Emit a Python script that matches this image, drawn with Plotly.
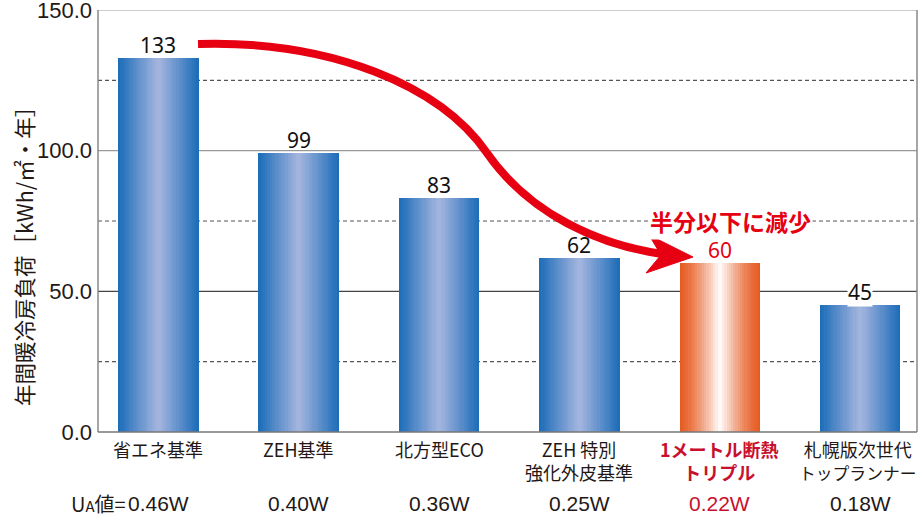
import plotly.graph_objects as go

# ---------------- data ----------------
categories = ["省エネ基準", "ZEH基準", "北方型ECO", "ZEH 特別<br>強化外皮基準",
              "1メートル断熱<br>トリプル", "札幌版次世代<br><span style='font-size:16.8px'>トップランナー</span>"]
loads = [133, 99, 83, 62, 60, 45]
ua_values = ["0.46W", "0.40W", "0.36W", "0.25W", "0.22W", "0.18W"]
highlight = [False, False, False, False, True, False]
y_tickvals = [0, 50, 100, 150]
y_title = "年間暖冷房負荷［kWh/㎡・年］"
callout = "半分以下に減少"
ua_prefix = "U<span style='font-size:15px'>A</span>値="

# ---------------- layout constants ----------------
W, H = 920, 514
ML, MR, MT, MB = 98, 3, 10, 82
XR = [-0.43, 5.405]
YR = [0, 150]
BAR_W = 0.574
N_STRIPS = 36

RED = "#e60012"
DARKRED = "#c8102e"
TXT = "#231815"

plot_w = W - ML - MR
plot_h = H - MT - MB


def px2d(px, py):
    """pixel position -> data coordinates (for decorative shapes only)"""
    x = XR[0] + (px - ML) / plot_w * (XR[1] - XR[0])
    y = YR[0] + (MT + plot_h - py) / plot_h * (YR[1] - YR[0])
    return x, y


def pstr(px, py):
    x, y = px2d(px, py)
    return f"{x:.4f},{y:.4f}"


def mix(c1, c2, t):
    return "rgb(%d,%d,%d)" % tuple(round(a + (b - a) * t) for a, b in zip(c1, c2))


BLUE_EDGE, BLUE_MID = (26, 108, 184), (166, 182, 223)
OR_EDGE, OR_MID = (230, 92, 34), (255, 255, 255)

fig = go.Figure()
xs = list(range(len(categories)))
sw = BAR_W / N_STRIPS
for k in range(N_STRIPS):
    u = -1 + (2 * k + 1) / N_STRIPS
    t = 1 - abs(u)
    cols = [mix(OR_EDGE, OR_MID, t ** 1.4) if h else mix(BLUE_EDGE, BLUE_MID, t)
            for h in highlight]
    off = -BAR_W / 2 + k * sw
    fig.add_trace(go.Bar(
        x=xs, y=loads, offset=off, width=sw * 1.25 if k < N_STRIPS - 1 else sw,
        marker=dict(color=cols, line=dict(width=0)),
        showlegend=False, hoverinfo="skip"))

shapes = []
# gridlines
for v, col, dash in [(25, "#555", "4px,3px"), (75, "#555", "4px,3px"), (125, "#555", "4px,3px"),
                     (50, "#444", "solid"), (100, "#999", "solid"), (150, "#999", "solid")]:
    shapes.append(dict(type="line", xref="paper", yref="y", x0=0, x1=1, y0=v, y1=v,
                       line=dict(color=col, width=1.2, dash=dash), layer="below"))
# frame
shapes.append(dict(type="line", xref="paper", yref="paper", x0=0, x1=0, y0=0, y1=1,
                   line=dict(color="#888", width=1.5), layer="below"))
shapes.append(dict(type="line", xref="paper", yref="paper", x0=1, x1=1, y0=0, y1=1,
                   line=dict(color="#888", width=1.5), layer="below"))
shapes.append(dict(type="line", xref="paper", yref="paper", x0=0, x1=1, y0=0, y1=0,
                   line=dict(color="#777", width=1.5), layer="above"))

# red curved arrow
curve = ("M " + pstr(198, 44) + " C " + pstr(330, 40) + " " + pstr(440, 85) + " " + pstr(487, 153)
         + " C " + pstr(530, 215) + " " + pstr(600, 245) + " " + pstr(662, 254))
shapes.append(dict(type="path", xref="x", yref="y", path=curve,
                   line=dict(color=RED, width=8), layer="above"))
head = ("M " + pstr(693, 257) + " L " + pstr(649, 235) + " L " + pstr(661, 255)
        + " L " + pstr(646, 273) + " Z")
shapes.append(dict(type="path", xref="x", yref="y", path=head,
                   fillcolor=RED, line=dict(color=RED, width=1), layer="above"))

ann = []
# value labels
for i, v in enumerate(loads):
    ann.append(dict(x=i, y=v, xref="x", yref="y", text=str(v), showarrow=False,
                    yanchor="bottom", yshift=-2,
                    font=dict(family="Noto Sans", size=21, color=RED if highlight[i] else "#111"),
                    bgcolor="white" if v < 50 else "rgba(0,0,0,0)", borderpad=0))
# category labels
for i, c in enumerate(categories):
    if highlight[i]:
        txt = "<b>" + c + "</b>"
        col = DARKRED
    else:
        txt = c
        col = TXT
    xpos = i - 0.02 if i == len(categories) - 1 else i
    ann.append(dict(x=xpos, y=0, xref="x", yref="paper", text=txt, showarrow=False,
                    yanchor="top", yshift=-2,
                    font=dict(family="Noto Sans CJK JP", size=18, color=col)))
    ann.append(dict(x=i, y=0, xref="x", yref="paper", text=ua_values[i], showarrow=False,
                    yanchor="middle", yshift=-71,
                    font=dict(family="Liberation Sans", size=21, color=DARKRED if highlight[i] else TXT)))
# UA prefix
ann.append(dict(x=-0.215, y=0, xref="x", yref="paper", text=ua_prefix, showarrow=False,
                xanchor="right", yanchor="middle", yshift=-71,
                font=dict(family="Noto Sans CJK JP", size=20, color=TXT)))
# y-axis title
ann.append(dict(x=-0.091, y=0.43, xref="paper", yref="paper", text=y_title, showarrow=False,
                textangle=-90, xanchor="center", yanchor="middle",
                font=dict(family="Noto Sans CJK JP", size=21.5, color=TXT)))
# callout
cx, cy = px2d(730, 221)
ann.append(dict(x=cx, y=75, xref="x", yref="y",
                text="<b>" + callout + "</b>", showarrow=False,
                xanchor="center", yanchor="middle",
                bgcolor="white", borderpad=1,
                font=dict(family="Noto Sans CJK JP", size=23, color=RED)))

fig.update_layout(
    width=W, height=H, margin=dict(l=ML, r=MR, t=MT, b=MB, pad=0, autoexpand=False),
    paper_bgcolor="white", plot_bgcolor="white",
    barmode="overlay", bargap=0,
    xaxis=dict(range=XR, showticklabels=False, showgrid=False, zeroline=False,
               showline=False, fixedrange=True, automargin=False),
    yaxis=dict(range=YR, tickvals=y_tickvals, tickformat=".1f", showgrid=False,
               zeroline=False, showline=False, ticks="", ticklabelstandoff=5,
               ticklabeloverflow="allow", automargin=False,
               tickfont=dict(family="Liberation Sans", size=22, color=TXT)),
    shapes=shapes, annotations=ann, showlegend=False,
)

fig.write_html("out.html")
